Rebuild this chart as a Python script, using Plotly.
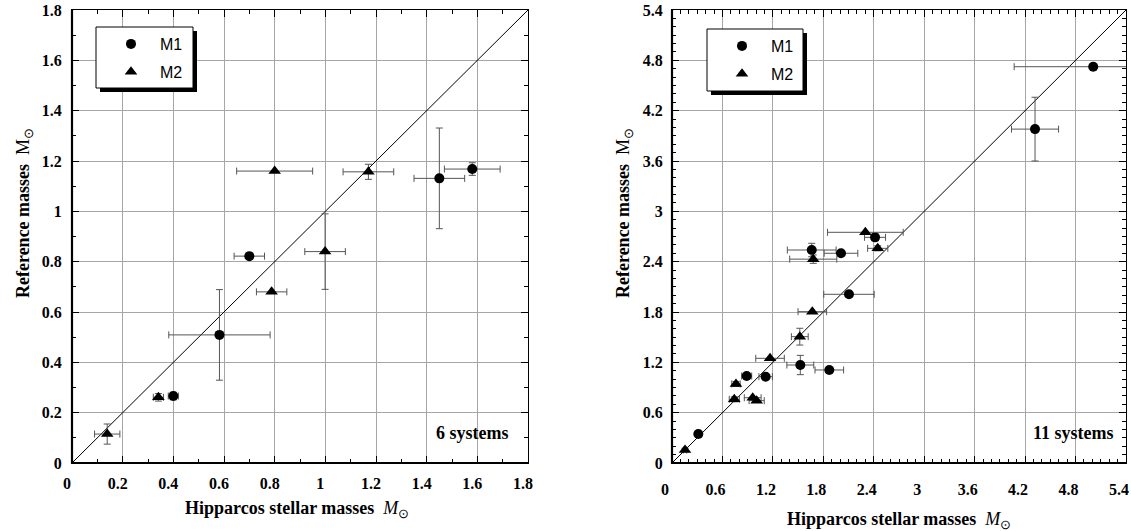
import plotly.graph_objects as go

# ---------------- data ----------------
# Left panel (6 systems)
L_m1_x = [0.40, 0.582, 0.70, 1.45, 1.58]
L_m1_y = [0.266, 0.509, 0.822, 1.131, 1.168]
L_m1_ex = [0.02, 0.20, 0.06, 0.10, 0.11]
L_m1_ey = [0.015, 0.18, 0.0, 0.20, 0.025]

L_m2_x = [0.139, 0.341, 0.788, 0.80, 0.999, 1.17]
L_m2_y = [0.115, 0.261, 0.68, 1.16, 0.84, 1.157]
L_m2_ex = [0.05, 0.02, 0.06, 0.15, 0.08, 0.10]
L_m2_ey = [0.04, 0.015, 0.0, 0.0, 0.15, 0.03]

# Right panel (11 systems)
R_m1_x = [5.01, 4.318, 2.415, 1.662, 2.01, 2.105, 1.526, 1.871, 0.888, 1.114, 0.313]
R_m1_y = [4.724, 3.98, 2.69, 2.539, 2.50, 2.011, 1.168, 1.109, 1.037, 1.029, 0.346]
R_m1_ex = [0.94, 0.28, 0.125, 0.29, 0.20, 0.30, 0.16, 0.17, 0.06, 0.08, 0.03]
R_m1_ey = [0.0, 0.38, 0.04, 0.08, 0.0, 0.0, 0.115, 0.0, 0.0, 0.0, 0.02]

R_m2_x = [2.30, 2.447, 1.68, 1.669, 1.52, 1.166, 0.761, 0.741, 0.96, 1.007, 0.155]
R_m2_y = [2.75, 2.559, 2.43, 1.804, 1.506, 1.248, 0.942, 0.759, 0.778, 0.743, 0.155]
R_m2_ex = [0.45, 0.12, 0.28, 0.17, 0.10, 0.17, 0.05, 0.06, 0.10, 0.09, 0.02]
R_m2_ey = [0.0, 0.03, 0.05, 0.0, 0.10, 0.0, 0.03, 0.03, 0.0, 0.0, 0.02]

L_ticks = [0, 0.2, 0.4, 0.6, 0.8, 1, 1.2, 1.4, 1.6, 1.8]
L_ticktext = ["0", "0.2", "0.4", "0.6", "0.8", "1", "1.2", "1.4", "1.6", "1.8"]
R_ticks = [0, 0.6, 1.2, 1.8, 2.4, 3, 3.6, 4.2, 4.8, 5.4]
R_ticktext = ["0", "0.6", "1.2", "1.8", "2.4", "3", "3.6", "4.2", "4.8", "5.4"]
L_diag = [0, 1.8]
R_diag = [0, 5.4]
L_label = "6 systems"
R_label = "11 systems"

# ---------------- figure ----------------
W, H = 1131, 531
SERIF = "Liberation Serif, Times New Roman, serif"
SANS = "Liberation Sans, Arial, sans-serif"
ERRC = "#555555"

fig = go.Figure()


def add_panel(xs, ys, exs, eys, name, symbol, size, xa, ya, legend, group):
    fig.add_trace(go.Scatter(
        x=xs, y=ys, mode="markers", name=name,
        xaxis=xa, yaxis=ya, legend=legend, legendgroup=group,
        marker=dict(symbol=symbol, size=size, color="black"),
        error_x=dict(type="data", array=exs, color=ERRC, thickness=1, width=3.5),
        error_y=dict(type="data", array=eys, color=ERRC, thickness=1, width=3.5),
    ))


# diagonals
fig.add_trace(go.Scatter(x=L_diag, y=L_diag, mode="lines", line=dict(color="black", width=1),
                         showlegend=False, xaxis="x", yaxis="y", hoverinfo="skip"))
fig.add_trace(go.Scatter(x=R_diag, y=R_diag, mode="lines", line=dict(color="black", width=1),
                         showlegend=False, xaxis="x2", yaxis="y2", hoverinfo="skip"))

add_panel(L_m1_x, L_m1_y, L_m1_ex, L_m1_ey, "M1", "circle", 10, "x", "y", "legend", "a")
add_panel(L_m2_x, L_m2_y, L_m2_ex, L_m2_ey, "M2", "triangle-up", 11, "x", "y", "legend", "b")
add_panel(R_m1_x, R_m1_y, R_m1_ex, R_m1_ey, "M1", "circle", 10, "x2", "y2", "legend2", "c")
add_panel(R_m2_x, R_m2_y, R_m2_ex, R_m2_ey, "M2", "triangle-up", 11, "x2", "y2", "legend2", "d")

def px_x(p):
    return p / W

def px_y(p):
    return 1 - p / H

tickfont = dict(family=SERIF, size=16, color="black", weight="bold")

def axis_common(rng, tv, tt, minor_dt):
    return dict(
        range=rng, tickvals=tv, ticktext=tt, showgrid=True, gridcolor="#a6a6a6", gridwidth=1,
        zeroline=False, showline=True, linecolor="black", linewidth=1, mirror="ticks",
        ticks="inside", ticklen=7, tickcolor="black", tickwidth=1, tickfont=tickfont,
        minor=dict(dtick=minor_dt, tick0=0, ticks="inside", ticklen=4, tickcolor="black",
                   tickwidth=1, showgrid=False),
        fixedrange=True,
    )

xl = axis_common([0, 1.8], L_ticks, L_ticktext, 0.1)
xl.update(domain=[px_x(72), px_x(528)], anchor="y", ticklabelshift=-5, ticklabelstandoff=6)
yl = axis_common([0, 1.8], L_ticks, L_ticktext, 0.1)
yl.update(domain=[px_y(463), px_y(10)], anchor="x", ticklabelstandoff=6)
xr = axis_common([0, 5.4], R_ticks, R_ticktext, 0.1)
xr.update(domain=[px_x(672), px_x(1126)], anchor="y2", ticklabelshift=-7, ticklabelstandoff=12)
yr = axis_common([0, 5.4], R_ticks, R_ticktext, 0.1)
yr.update(domain=[px_y(463), px_y(10)], anchor="x2", ticklabelstandoff=5)

shapes = []
# legend boxes (shadow + white box) in pixel-derived paper coords
for (x0, y0, x1, y1) in [(96, 27, 193, 88), (707, 29, 803, 91)]:
    shapes.append(dict(type="rect", xref="paper", yref="paper",
                       x0=px_x(x0 + 4), x1=px_x(x1 + 4), y0=px_y(y1 + 4), y1=px_y(y0 + 4),
                       fillcolor="black", line=dict(width=0), layer="above"))
    shapes.append(dict(type="rect", xref="paper", yref="paper",
                       x0=px_x(x0), x1=px_x(x1), y0=px_y(y1), y1=px_y(y0),
                       fillcolor="white", line=dict(color="black", width=1), layer="above"))
# thick left/bottom frame lines
for xa, ya in [("x", "y"), ("x2", "y2")]:
    shapes.append(dict(type="line", xref=f"{xa} domain", yref=f"{ya} domain",
                       x0=0, x1=1, y0=0, y1=0, line=dict(color="black", width=2.2), layer="above"))
    shapes.append(dict(type="line", xref=f"{xa} domain", yref=f"{ya} domain",
                       x0=0, x1=0, y0=0, y1=1, line=dict(color="black", width=2.2), layer="above"))

annotations = [
    dict(text=f"<b>{L_label}</b>", xref="x domain", yref="y domain", x=0.963, y=0.066,
         xanchor="right", yanchor="middle", showarrow=False,
         font=dict(family=SERIF, size=18, color="black")),
    dict(text=f"<b>{R_label}</b>", xref="x2 domain", yref="y2 domain", x=0.978, y=0.066,
         xanchor="right", yanchor="middle", showarrow=False,
         font=dict(family=SERIF, size=18, color="black")),
    dict(text="<b>Hipparcos stellar masses</b>  <i>M</i><sub>⊙</sub>", xref="paper", yref="paper",
         x=px_x(297), y=px_y(509), xanchor="center", yanchor="middle", showarrow=False,
         font=dict(family=SERIF, size=18, color="black")),
    dict(text="<b>Hipparcos stellar masses</b>  <i>M</i><sub>⊙</sub>", xref="paper", yref="paper",
         x=px_x(899), y=px_y(520), xanchor="center", yanchor="middle", showarrow=False,
         font=dict(family=SERIF, size=18, color="black")),
    dict(text="<b>Reference masses</b>  M<sub>⊙</sub>", xref="paper", yref="paper",
         x=px_x(25), y=px_y(213), xanchor="center", yanchor="middle", showarrow=False,
         textangle=-90, font=dict(family=SERIF, size=18, color="black")),
    dict(text="<b>Reference masses</b>  M<sub>⊙</sub>", xref="paper", yref="paper",
         x=px_x(625), y=px_y(213), xanchor="center", yanchor="middle", showarrow=False,
         textangle=-90, font=dict(family=SERIF, size=18, color="black")),
]

legend_common = dict(bgcolor="rgba(0,0,0,0)", borderwidth=0, itemwidth=48,
                     tracegroupgap=4, font=dict(family=SANS, size=16, color="black"),
                     xanchor="left", yanchor="top", itemclick=False, itemdoubleclick=False)

fig.update_layout(
    width=W, height=H,
    margin=dict(l=0, r=0, t=0, b=0, autoexpand=False),
    paper_bgcolor="white", plot_bgcolor="white",
    xaxis=xl, yaxis=yl, xaxis2=xr, yaxis2=yr,
    shapes=shapes, annotations=annotations,
    legend=dict(x=px_x(102), y=px_y(27), **legend_common),
    legend2=dict(x=px_x(713), y=px_y(29), **legend_common),
    showlegend=True,
)

fig.write_html("out.html")
